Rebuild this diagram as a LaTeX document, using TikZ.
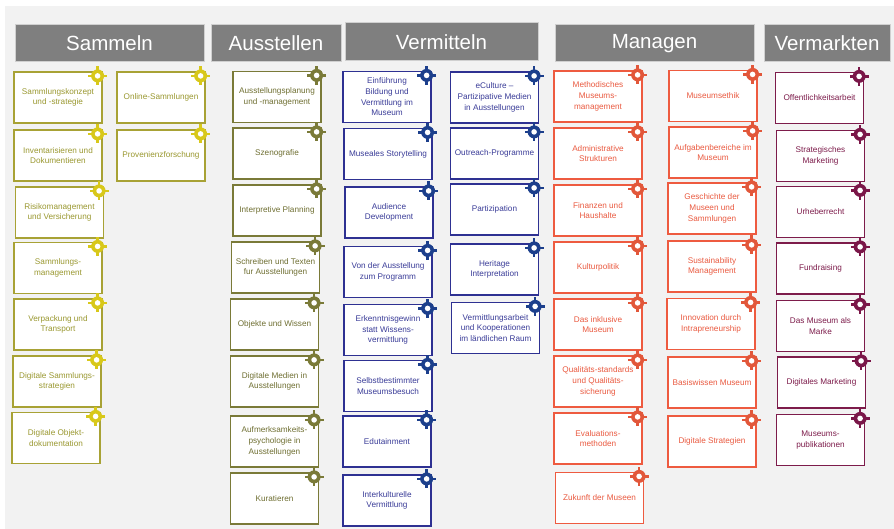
\documentclass[tikz,border=0pt]{standalone}
\usepackage{fontspec}
\setmainfont{Liberation Sans}
\usetikzlibrary{calc}
\definecolor{bgc}{HTML}{F2F2F2}
\definecolor{hdr}{HTML}{7F7F7F}
\definecolor{hdredge}{HTML}{D0D0D0}
\definecolor{samB}{HTML}{A8A235}
\definecolor{samT}{HTML}{9A9830}
\definecolor{samI}{HTML}{D8C81A}
\definecolor{ausB}{HTML}{7A7A38}
\definecolor{ausT}{HTML}{6F6F32}
\definecolor{ausI}{HTML}{7A7A38}
\definecolor{verB}{HTML}{2E3192}
\definecolor{verT}{HTML}{3A3C98}
\definecolor{verI}{HTML}{1C3F8C}
\definecolor{manB}{HTML}{EE5B40}
\definecolor{manT}{HTML}{EA5A40}
\definecolor{manI}{HTML}{E2573A}
\definecolor{marB}{HTML}{7D1C4B}
\definecolor{marT}{HTML}{7D1C4B}
\definecolor{marI}{HTML}{7A1648}
\tikzset{
  hdrbox/.style={fill=hdr, draw=hdredge, line width=1pt, text=white,
    font=\fontsize{20.5}{24}\selectfont, inner sep=0pt},
  topic/.style={draw=#1B, text=#1T, fill=white, line width=1.2pt,
    minimum width=88pt, minimum height=51pt, inner sep=1pt, align=center,
    font=\fontsize{8.2}{10.7}\selectfont},
  tagicon/.pic={
    \fill[#1] (0,0) circle (6.5pt);
    \fill[white] (0,0) circle (2.8pt);
    \draw[#1, line width=2.4pt] (0,6pt)--(0,9.5pt) (0,-6pt)--(0,-9.5pt)
      (6pt,0)--(9.5pt,0) (-6pt,0)--(-9.5pt,0);
  }
}
\newcommand\tb[5]{\node[topic=#1] (#2) at (#3,#4) {#5};
  \pic at ($(#2.north east)+(-5pt,-4.5pt)$) {tagicon=#1I};}
\begin{document}
\begin{tikzpicture}[x=1pt,y=-1pt]
\useasboundingbox (0,0) rectangle (894,529);
\fill[bgc] (5,6) rectangle (894,529);
% headers
\node[hdrbox, minimum width=189pt, minimum height=37pt] (hSam) at (109.5,43.5) {Sammeln};
\node[hdrbox, minimum width=130pt, minimum height=37pt] (hAus) at (276,43.5) {Ausstellen};
\node[hdrbox, minimum width=193pt, minimum height=38pt] (hVer) at (441.5,42) {Vermitteln};
\node[hdrbox, minimum width=199pt, minimum height=37pt] (hMan) at (654.5,43.5) {Managen};
\node[hdrbox, minimum width=126pt, minimum height=37pt] (hMar) at (827,43.5) {Vermarkten};
% Sammeln
\tb{sam}{s1}{58}{97.5}{Sammlungskonzept\\und -strategie}
\tb{sam}{s2}{58}{155.5}{Inventarisieren und\\Dokumentieren}
\tb{sam}{s3}{59.5}{212.5}{Risikomanagement\\und Versicherung}
\tb{sam}{s4}{58}{268}{Sammlungs-\\management}
\tb{sam}{s5}{58}{324.5}{Verpackung und\\Transport}
\tb{sam}{s6}{57}{381.5}{Digitale Sammlungs-\\strategien}
\tb{sam}{s7}{56}{438}{Digitale Objekt-\\dokumentation}
\tb{sam}{s8}{161}{97.5}{Online-Sammlungen}
\tb{sam}{s9}{161}{155.5}{Provenienzforschung}
% Ausstellen
\tb{aus}{a1}{277}{97}{Ausstellungsplanung\\und -management}
\tb{aus}{a2}{277}{153.5}{Szenografie}
\tb{aus}{a3}{277}{210.5}{Interpretive Planning}
\tb{aus}{a4}{275.5}{267.5}{Schreiben und Texten\\fur Ausstellungen}
\tb{aus}{a5}{274.5}{324.5}{Objekte und Wissen}
\tb{aus}{a6}{274.5}{381.5}{Digitale Medien in\\Ausstellungen}
\tb{aus}{a7}{274.5}{441.5}{Aufmerksamkeits-\\psychologie in\\Ausstellungen}
\tb{aus}{a8}{274.5}{498.5}{Kuratieren}
% Vermitteln
\tb{ver}{v1}{387}{97}{Einführung\\Bildung und\\Vermittlung im\\Museum}
\tb{ver}{v2}{388}{154}{Museales Storytelling}
\tb{ver}{v3}{389}{212.5}{Audience\\Development}
\tb{ver}{v4}{388}{272}{Von der Ausstellung\\zum Programm}
\tb{ver}{v5}{388}{330}{Erkenntnisgewinn\\statt Wissens-\\vermittlung}
\tb{ver}{v6}{388}{386}{Selbstbestimmter\\Museumsbesuch}
\tb{ver}{v7}{387}{441.5}{Edutainment}
\tb{ver}{v8}{387}{500.5}{Interkulturelle\\Vermittlung}
\tb{ver}{v9}{494.5}{97.5}{eCulture --\\Partizipative Medien\\in Ausstellungen}
\tb{ver}{v10}{494.5}{153.5}{Outreach-Programme}
\tb{ver}{v11}{494.5}{209.5}{Partizipation}
\tb{ver}{v12}{494.5}{269.5}{Heritage\\Interpretation}
\tb{ver}{v13}{495.5}{328}{Vermittlungsarbeit\\und Kooperationen\\im ländlichen Raum}
% Managen
\tb{man}{m1}{598}{96.5}{Methodisches\\Museums-\\management}
\tb{man}{m2}{598}{153.5}{Administrative\\Strukturen}
\tb{man}{m3}{598}{210.5}{Finanzen und\\Haushalte}
\tb{man}{m4}{598}{267.5}{Kulturpolitik}
\tb{man}{m5}{598}{324.5}{Das inklusive\\Museum}
\tb{man}{m6}{598}{381.5}{Qualitäts-standards\\und Qualitäts-\\sicherung}
\tb{man}{m7}{598}{438.5}{Evaluations-\\methoden}
\tb{man}{m8}{599.5}{498}{Zukunft der Museen}
\tb{man}{m9}{713}{96}{Museumsethik}
\tb{man}{m10}{713}{152.5}{Aufgabenbereiche im\\Museum}
\tb{man}{m11}{712}{208.5}{Geschichte der\\Museen und\\Sammlungen}
\tb{man}{m12}{712}{266.5}{Sustainability\\Management}
\tb{man}{m13}{711}{324}{Innovation durch\\Intrapreneurship}
\tb{man}{m14}{712}{382.5}{Basiswissen Museum}
\tb{man}{m15}{712}{441.5}{Digitale Strategien}
% Vermarkten
\tb{mar}{k1}{819.5}{98}{Offentlichkeitsarbeit}
\tb{mar}{k2}{820.5}{156}{Strategisches\\Marketing}
\tb{mar}{k3}{820.5}{212}{Urheberrecht}
\tb{mar}{k4}{820.5}{268.5}{Fundraising}
\tb{mar}{k5}{820.5}{326}{Das Museum als\\Marke}
\tb{mar}{k6}{821.5}{382.5}{Digitales Marketing}
\tb{mar}{k7}{820.5}{440}{Museums-\\publikationen}
\end{tikzpicture}
\end{document}
